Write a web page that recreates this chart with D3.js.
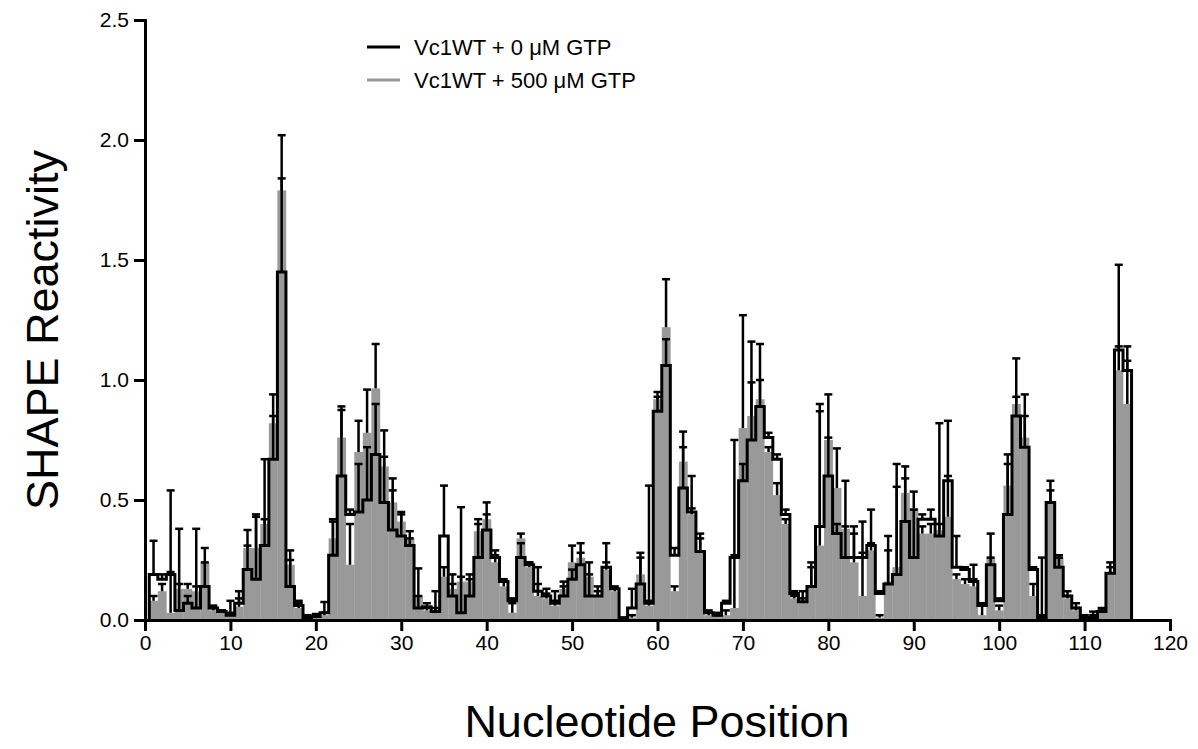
<!DOCTYPE html>
<html>
<head>
<meta charset="utf-8">
<script src="https://cdn.jsdelivr.net/npm/d3@7/dist/d3.min.js"></script>
<style>
  body { margin: 0; background: #fff; }
  text { font-family: "Liberation Sans", Arial, sans-serif; fill: #000; }
</style>
</head>
<body>
<svg class="chart" width="1198" height="749"></svg>
<script>
// nucleotide positions 1..115
var positions = d3.range(1, 116);

// Vc1WT + 0 uM GTP (black outline)
var gtp0 = [
  0.19, 0.17, 0.19, 0.04, 0.07, 0.05, 0.14, 0.05, 0.035, 0.02,
  0.07, 0.21, 0.17, 0.31, 0.67, 1.45, 0.14, 0.06, 0.01, 0.015,
  0.03, 0.27, 0.60, 0.44, 0.45, 0.50, 0.69, 0.49, 0.375, 0.35,
  0.31, 0.05, 0.055, 0.035, 0.35, 0.10, 0.03, 0.10, 0.26, 0.375,
  0.26, 0.16, 0.08, 0.26, 0.23, 0.12, 0.10, 0.07, 0.10, 0.17,
  0.23, 0.10, 0.10, 0.22, 0.13, 0.005, 0.05, 0.15, 0.07, 0.87,
  1.06, 0.27, 0.55, 0.45, 0.285, 0.03, 0.02, 0.07, 0.26, 0.58,
  0.75, 0.89, 0.76, 0.67, 0.44, 0.11, 0.076, 0.14, 0.39, 0.60,
  0.36, 0.26, 0.26, 0.26, 0.31, 0.11, 0.15, 0.19, 0.41, 0.26,
  0.42, 0.42, 0.35, 0.58, 0.22, 0.21, 0.16, 0.06, 0.23, 0.08,
  0.44, 0.85, 0.72, 0.21, 0.01, 0.49, 0.22, 0.10, 0.05, 0.01,
  0.01, 0.035, 0.195, 1.125, 1.04
];
// tops of the error bars for the 0 uM series
var gtp0Top = [
  0.33, 0.19, 0.20, 0.38, 0.10, 0.38, 0.24, 0.06, 0.04, 0.03,
  0.12, 0.31, 0.43, 0.67, 0.94, 2.02, 0.29, 0.08, 0.02, 0.025,
  0.075, 0.42, 0.89, 0.46, 0.65, 0.72, 0.90, 0.68, 0.54, 0.44,
  0.34, 0.10, 0.07, 0.12, 0.56, 0.19, 0.47, 0.19, 0.42, 0.49,
  0.29, 0.17, 0.09, 0.32, 0.24, 0.22, 0.13, 0.12, 0.16, 0.21,
  0.32, 0.19, 0.14, 0.32, 0.14, 0.01, 0.13, 0.28, 0.08, 0.93,
  1.17, 0.30, 0.72, 0.60, 0.36, 0.04, 0.03, 0.08, 0.27, 0.65,
  0.99, 1.00, 0.78, 0.69, 0.46, 0.12, 0.12, 0.22, 0.87, 0.76,
  0.40, 0.39, 0.36, 0.28, 0.46, 0.12, 0.29, 0.65, 0.59, 0.46,
  0.44, 0.46, 0.82, 0.60, 0.35, 0.22, 0.23, 0.07, 0.26, 0.09,
  0.69, 0.93, 0.85, 0.22, 0.26, 0.54, 0.26, 0.12, 0.07, 0.02,
  0.035, 0.05, 0.24, 1.14, 1.08
];

// Vc1WT + 500 uM GTP (gray bars)
var gtp500 = [
  0.08, 0.12, 0.03, 0.13, 0.13, 0.12, 0.24, 0.04, 0.03, 0.02,
  0.055, 0.30, 0.30, 0.40, 0.82, 1.79, 0.23, 0.05, 0.01, 0.01,
  0.02, 0.34, 0.76, 0.23, 0.70, 0.78, 0.965, 0.64, 0.49, 0.41,
  0.34, 0.10, 0.04, 0.03, 0.18, 0.13, 0.16, 0.16, 0.37, 0.42,
  0.24, 0.14, 0.03, 0.34, 0.22, 0.10, 0.09, 0.06, 0.13, 0.24,
  0.26, 0.18, 0.10, 0.21, 0.12, 0.005, 0.01, 0.19, 0.06, 0.92,
  1.22, 0.12, 0.66, 0.44, 0.28, 0.02, 0.015, 0.02, 0.05, 0.80,
  0.85, 0.92, 0.70, 0.52, 0.40, 0.09, 0.08, 0.14, 0.31, 0.75,
  0.55, 0.38, 0.24, 0.10, 0.29, 0.01, 0.16, 0.22, 0.53, 0.465,
  0.36, 0.36, 0.375, 0.43, 0.17, 0.15, 0.14, 0.02, 0.26, 0.04,
  0.56, 0.90, 0.76, 0.10, 0.01, 0.49, 0.26, 0.09, 0.04, 0.01,
  0.01, 0.03, 0.195, 1.04, 0.90
];
// tops of the error bars for the 500 uM series
var gtp500Top = [
  0.10, 0.15, 0.54, 0.15, 0.15, 0.14, 0.30, 0.05, 0.04, 0.08,
  0.09, 0.375, 0.44, 0.42, 0.85, 1.84, 0.25, 0.07, 0.02, 0.02,
  0.03, 0.41, 0.875, 0.40, 0.83, 0.96, 1.15, 0.79, 0.59, 0.45,
  0.37, 0.215, 0.05, 0.05, 0.22, 0.15, 0.18, 0.17, 0.40, 0.44,
  0.27, 0.16, 0.07, 0.36, 0.24, 0.15, 0.11, 0.08, 0.14, 0.31,
  0.28, 0.24, 0.12, 0.24, 0.13, 0.01, 0.02, 0.26, 0.56, 0.95,
  1.42, 0.14, 0.785, 0.465, 0.34, 0.03, 0.02, 0.04, 0.75, 1.27,
  1.16, 1.15, 0.72, 0.57, 0.42, 0.10, 0.09, 0.24, 0.90, 0.94,
  0.715, 0.58, 0.39, 0.41, 0.32, 0.02, 0.35, 0.555, 0.64, 0.535,
  0.39, 0.40, 0.40, 0.83, 0.19, 0.17, 0.17, 0.06, 0.36, 0.06,
  0.65, 1.09, 0.94, 0.15, 0.02, 0.58, 0.27, 0.10, 0.05, 0.02,
  0.02, 0.04, 0.22, 1.48, 1.14
];

var xTicks = d3.range(0, 121, 10);
var yTicks = [0, 0.5, 1.0, 1.5, 2.0, 2.5];

var legendLabels = ['Vc1WT + 0 \u03bcM GTP', 'Vc1WT + 500 \u03bcM GTP'];
var legendColors = ['#000000', '#999999'];

var margin = {top: 20, right: 28, bottom: 129, left: 145},
    width = 1198 - margin.left - margin.right,
    height = 749 - margin.top - margin.bottom;

var svg = d3.select(".chart");

var chart = svg.append("g")
    .attr("transform", "translate(" + margin.left + "," + margin.top + ")");

var x = d3.scaleLinear().domain([0, 120]).range([0, width]);
var y = d3.scaleLinear().domain([0, 2.5]).range([height, 0]);
var bw = x(1) - x(0);

// gray bars (500 uM)
chart.selectAll(".bar")
    .data(positions)
  .enter().append("rect")
    .attr("class", "bar")
    .attr("x", function(d) { return x(d - 0.5); })
    .attr("width", bw + 0.3)
    .attr("y", function(d, i) { return y(gtp500[i]); })
    .attr("height", function(d, i) { return y(0) - y(gtp500[i]); })
    .attr("fill", "#999999");

// black outline (0 uM) as a staircase over the bar tops
var steps = positions.map(function(d, i) { return [d - 0.5, gtp0[i]]; });
steps.unshift([0.5, 0]);
steps.push([115.5, gtp0[gtp0.length - 1]]);
steps.push([115.5, 0]);

var line = d3.line()
    .x(function(d) { return x(d[0]); })
    .y(function(d) { return y(d[1]); })
    .curve(d3.curveStepAfter);

chart.append("path")
    .datum(steps)
    .attr("fill", "none")
    .attr("stroke", "#000")
    .attr("stroke-width", 3)
    .attr("d", line);

// error bars, both series drawn in black
function errorBars(vals, tops, cls) {
  var g = chart.selectAll("g." + cls)
      .data(positions)
    .enter().append("g")
      .attr("class", cls);

  g.append("line")
      .attr("x1", function(d) { return x(d); })
      .attr("x2", function(d) { return x(d); })
      .attr("y1", function(d, i) { return y(vals[i]); })
      .attr("y2", function(d, i) { return y(tops[i]); })
      .attr("stroke", "#000")
      .attr("stroke-width", 2.5);

  g.append("line")
      .attr("x1", function(d) { return x(d) - 4; })
      .attr("x2", function(d) { return x(d) + 4; })
      .attr("y1", function(d, i) { return y(tops[i]); })
      .attr("y2", function(d, i) { return y(tops[i]); })
      .attr("stroke", "#000")
      .attr("stroke-width", 2.5);
}
errorBars(gtp500, gtp500Top, "err500");
errorBars(gtp0, gtp0Top, "err0");

// axes
var xAxis = d3.axisBottom(x).tickValues(xTicks).tickSize(11).tickPadding(4)
    .tickFormat(d3.format("d"));
var yAxis = d3.axisLeft(y).tickValues(yTicks).tickSize(11).tickPadding(5)
    .tickFormat(d3.format(".1f"));

chart.append("g")
    .attr("class", "x axis")
    .attr("transform", "translate(0," + height + ")")
    .call(xAxis);

chart.append("g")
    .attr("class", "y axis")
    .call(yAxis);

chart.selectAll(".axis path").attr("stroke", "#000").attr("stroke-width", 3);
chart.selectAll(".axis line").attr("stroke", "#000").attr("stroke-width", 3);
chart.selectAll(".axis text")
    .style("font-family", "'Liberation Sans', Arial, sans-serif")
    .style("font-size", "21px")
    .attr("fill", "#000");

// axis titles
svg.append("text")
    .attr("x", 657)
    .attr("y", 737)
    .attr("text-anchor", "middle")
    .style("font-size", "45px")
    .text("Nucleotide Position");

svg.append("text")
    .attr("transform", "translate(58,330) rotate(-90)")
    .attr("text-anchor", "middle")
    .style("font-size", "45px")
    .text("SHAPE Reactivity");

// legend
var legend = svg.selectAll(".legend")
    .data(legendLabels)
  .enter().append("g")
    .attr("class", "legend")
    .attr("transform", function(d, i) { return "translate(367," + (47 + i * 33) + ")"; });

legend.append("line")
    .attr("x1", 0).attr("x2", 33)
    .attr("stroke", function(d, i) { return legendColors[i]; })
    .attr("stroke-width", 3);

legend.append("text")
    .attr("x", 47)
    .attr("dy", "0.35em")
    .style("font-size", "22px")
    .text(function(d) { return d; });
</script>
</body>
</html>
